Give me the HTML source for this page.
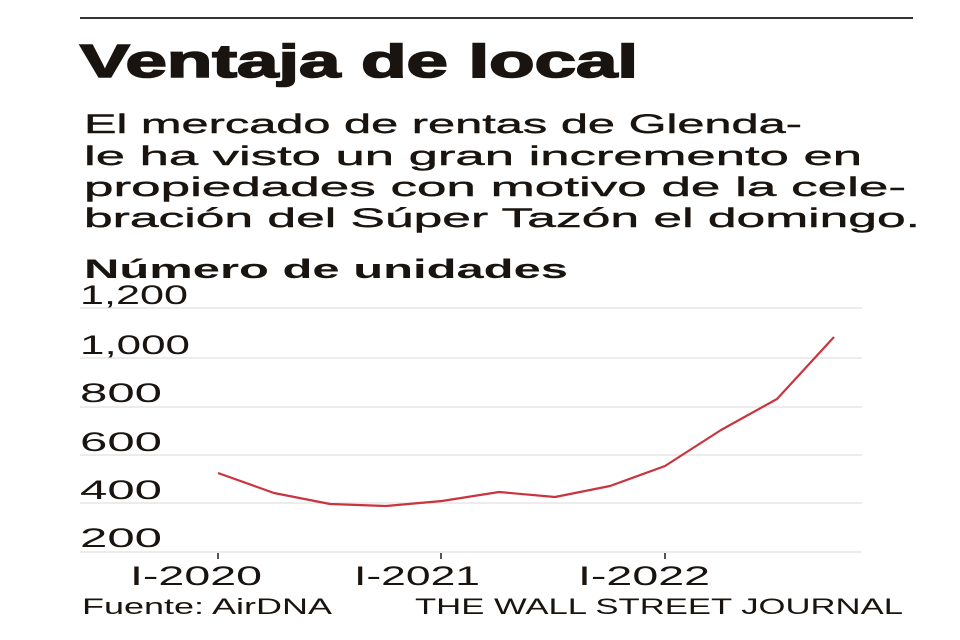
<!DOCTYPE html>
<html><head><meta charset="utf-8"><style>
body{margin:0;width:960px;height:640px;background:#fff;overflow:hidden;font-family:"Liberation Sans",sans-serif;color:#1a1410}
</style></head><body>
<svg width="960" height="640" xmlns="http://www.w3.org/2000/svg" style="position:absolute;left:0;top:0">
<line x1="80" y1="18" x2="913" y2="18" stroke="#333" stroke-width="2"/>
<text x="80" y="77" font-family="Liberation Sans" font-weight="900" font-size="46" fill="#1a1410" stroke="#1a1410" stroke-width="1.6" textLength="558" lengthAdjust="spacingAndGlyphs">Ventaja de local</text>
<g font-family="Liberation Sans" font-size="27" fill="#1a1410" stroke="#1a1410" stroke-width="0.4">
<text x="84" y="133" textLength="718" lengthAdjust="spacingAndGlyphs">El mercado de rentas de Glenda-</text>
<text x="84" y="165" textLength="778" lengthAdjust="spacingAndGlyphs">le ha visto un gran incremento en</text>
<text x="84" y="196" textLength="822" lengthAdjust="spacingAndGlyphs">propiedades con motivo de la cele-</text>
<text x="84" y="227" textLength="836" lengthAdjust="spacingAndGlyphs">bración del Súper Tazón el domingo.</text>
</g>
<text x="84" y="278" font-family="Liberation Sans" font-weight="bold" font-size="27" fill="#1a1410" textLength="484" lengthAdjust="spacingAndGlyphs">Número de unidades</text>
<g stroke="#e6e6e6" stroke-width="1.5">
<line x1="80" y1="308" x2="862" y2="308"/><line x1="80" y1="358" x2="862" y2="358"/>
<line x1="80" y1="407" x2="862" y2="407"/><line x1="80" y1="455" x2="862" y2="455"/>
<line x1="80" y1="503" x2="862" y2="503"/><line x1="80" y1="552" x2="862" y2="552"/>
</g>
<g font-family="Liberation Sans" font-size="27" fill="#1a1410" lengthAdjust="spacingAndGlyphs">
<text x="80" y="304" textLength="108" lengthAdjust="spacingAndGlyphs">1,200</text>
<text x="80" y="354" textLength="110" lengthAdjust="spacingAndGlyphs">1,000</text>
<text x="80" y="402" textLength="82" lengthAdjust="spacingAndGlyphs">800</text>
<text x="80" y="451" textLength="82" lengthAdjust="spacingAndGlyphs">600</text>
<text x="80" y="499" textLength="82" lengthAdjust="spacingAndGlyphs">400</text>
<text x="80" y="547" textLength="82" lengthAdjust="spacingAndGlyphs">200</text>
<text x="130" y="585" textLength="132" lengthAdjust="spacingAndGlyphs">I-2020</text>
<text x="354" y="585" textLength="126" lengthAdjust="spacingAndGlyphs">I-2021</text>
<text x="578" y="585" textLength="132" lengthAdjust="spacingAndGlyphs">I-2022</text>
</g>
<g stroke="#555" stroke-width="2"><line x1="218" y1="553" x2="218" y2="559"/><line x1="441" y1="553" x2="441" y2="559"/><line x1="665" y1="553" x2="665" y2="559"/></g>
<polyline fill="none" stroke="#c9343e" stroke-width="2.2" stroke-linejoin="round" points="218,473 274,493 330,504 386,506 442,501 499,492 555,497 610,486 665,466 721,430 777,399 834,337"/>
<g font-family="Liberation Sans" font-size="22" fill="#1a1410">
<text x="82" y="614" textLength="250" lengthAdjust="spacingAndGlyphs">Fuente: AirDNA</text>
<text x="415" y="614" textLength="488" lengthAdjust="spacingAndGlyphs">THE WALL STREET JOURNAL</text>
</g>
</svg>
</body></html>
